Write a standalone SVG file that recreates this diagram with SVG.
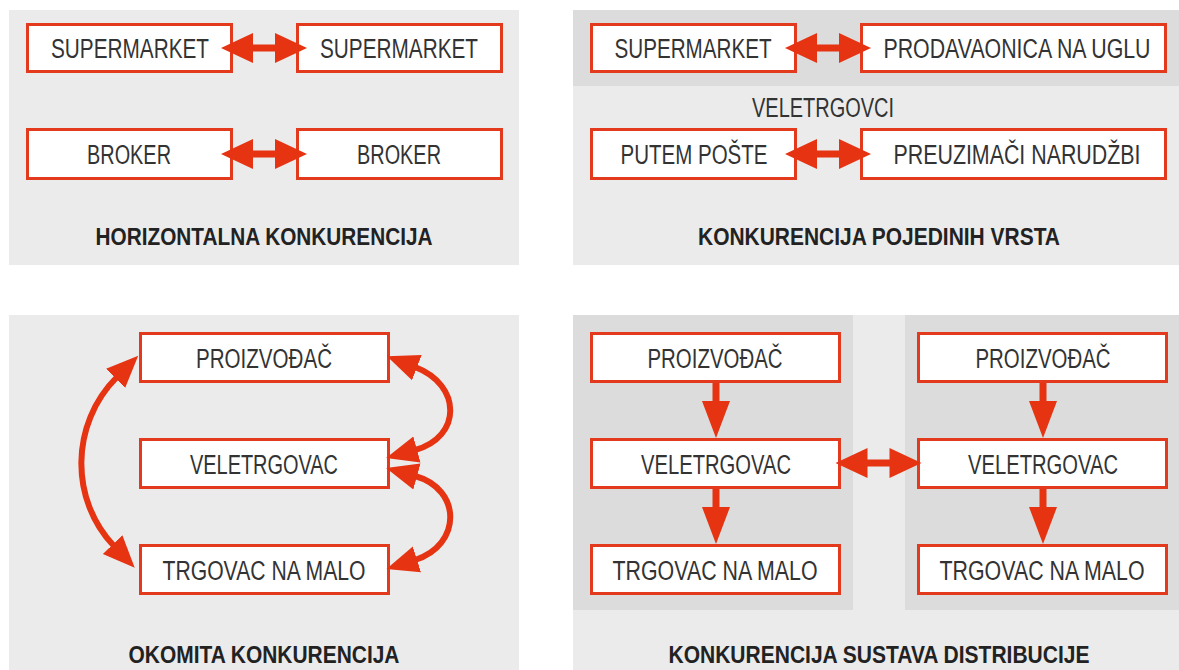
<svg xmlns="http://www.w3.org/2000/svg" xmlns:xlink="http://www.w3.org/1999/xlink" width="1179" height="670" viewBox="0 0 1179 670">
<style>
.bg{fill:#ebebeb}
.bg2{fill:#dcdcdc}
.box{fill:#ffffff;stroke:#e33a1e;stroke-width:3}
.t{font-family:"Liberation Sans",Arial,sans-serif;font-size:27px;fill:#333333;text-anchor:middle}
.title{font-family:"Liberation Sans",Arial,sans-serif;font-size:24px;font-weight:bold;fill:#222222;text-anchor:middle}
.arr{fill:#e63312}
.curve{fill:none;stroke:#e63312;stroke-width:6}
</style>
<defs>
<path id="dbl" d="M-43,0 L-11,-15 L-11,-3.5 L11,-3.5 L11,-15 L43,0 L11,15 L11,3.5 L-11,3.5 L-11,15 Z"/>
<path id="down" d="M-3.5,0 L3.5,0 L3.5,18 L14,18 L0,55 L-14,18 L-3.5,18 Z"/>
<marker id="head" markerUnits="userSpaceOnUse" markerWidth="36" markerHeight="30" viewBox="-2 -14 36 28" refX="0" refY="0" orient="auto-start-reverse">
<path d="M-2,-13.5 L30,0 L-2,13.5 Z" fill="#e63312"/>
</marker>
</defs>
<rect width="1179" height="670" fill="#ffffff"/>
<g id="panels">
<rect class="bg" x="9" y="10" width="510" height="255"/>
<rect class="bg" x="573" y="10" width="606" height="255"/>
<rect class="bg2" x="573" y="10" width="606" height="76"/>
<rect class="bg" x="9" y="315" width="510" height="355"/>
<rect class="bg" x="573" y="315" width="606" height="355"/>
<rect class="bg2" x="573" y="315" width="280" height="295"/>
<rect class="bg2" x="905" y="315" width="274" height="295"/>
</g>
<g id="titles">
<text class="title" x="264" y="245" textLength="337" lengthAdjust="spacingAndGlyphs">HORIZONTALNA KONKURENCIJA</text>
<text class="title" x="879" y="245" textLength="362" lengthAdjust="spacingAndGlyphs">KONKURENCIJA POJEDINIH VRSTA</text>
<text class="title" x="264" y="663" textLength="271" lengthAdjust="spacingAndGlyphs">OKOMITA KONKURENCIJA</text>
<text class="title" x="879" y="663" textLength="421" lengthAdjust="spacingAndGlyphs">KONKURENCIJA SUSTAVA DISTRIBUCIJE</text>
<text class="t" x="823" y="117" textLength="142" lengthAdjust="spacingAndGlyphs">VELETRGOVCI</text>
</g>
<g id="p1-supermarket-l"><rect class="box" x="27.5" y="24.5" width="204" height="47"/><text class="t" x="130" y="57.5" textLength="158" lengthAdjust="spacingAndGlyphs">SUPERMARKET</text></g>
<g id="p1-supermarket-r"><rect class="box" x="297.5" y="24.5" width="204" height="47"/><text class="t" x="399" y="57.5" textLength="158" lengthAdjust="spacingAndGlyphs">SUPERMARKET</text></g>
<g id="p1-broker-l"><rect class="box" x="27.5" y="129.5" width="204" height="49"/><text class="t" x="129" y="163.5" textLength="84" lengthAdjust="spacingAndGlyphs">BROKER</text></g>
<g id="p1-broker-r"><rect class="box" x="297.5" y="129.5" width="204" height="49"/><text class="t" x="399" y="163.5" textLength="84" lengthAdjust="spacingAndGlyphs">BROKER</text></g>
<g id="p2-supermarket"><rect class="box" x="591.5" y="24.5" width="204" height="47"/><text class="t" x="693" y="57.5" textLength="157" lengthAdjust="spacingAndGlyphs">SUPERMARKET</text></g>
<g id="p2-prodavaonica"><rect class="box" x="861.5" y="24.5" width="304" height="47"/><text class="t" x="1017" y="57.5" textLength="267" lengthAdjust="spacingAndGlyphs">PRODAVAONICA NA UGLU</text></g>
<g id="p2-putem-poste"><rect class="box" x="591.5" y="129.5" width="204" height="49"/><text class="t" x="694" y="163.5" textLength="147" lengthAdjust="spacingAndGlyphs">PUTEM POŠTE</text></g>
<g id="p2-preuzimaci"><rect class="box" x="861.5" y="129.5" width="304" height="49"/><text class="t" x="1017" y="163.5" textLength="247" lengthAdjust="spacingAndGlyphs">PREUZIMAČI NARUDŽBI</text></g>
<g id="p3-proizvodac"><rect class="box" x="140.5" y="333.5" width="248" height="48"/><text class="t" x="264" y="367.5" textLength="136" lengthAdjust="spacingAndGlyphs">PROIZVOĐAČ</text></g>
<g id="p3-veletrgovac"><rect class="box" x="140.5" y="439.5" width="248" height="48"/><text class="t" x="264" y="473.5" textLength="148" lengthAdjust="spacingAndGlyphs">VELETRGOVAC</text></g>
<g id="p3-trgovac"><rect class="box" x="140.5" y="545.5" width="248" height="48"/><text class="t" x="264" y="579.5" textLength="203" lengthAdjust="spacingAndGlyphs">TRGOVAC NA MALO</text></g>
<g id="p4-proizvodac-l"><rect class="box" x="591.5" y="333.5" width="248" height="48"/><text class="t" x="715" y="367.5" textLength="135" lengthAdjust="spacingAndGlyphs">PROIZVOĐAČ</text></g>
<g id="p4-veletrgovac-l"><rect class="box" x="591.5" y="439.5" width="248" height="48"/><text class="t" x="716" y="473.5" textLength="150" lengthAdjust="spacingAndGlyphs">VELETRGOVAC</text></g>
<g id="p4-trgovac-l"><rect class="box" x="591.5" y="545.5" width="248" height="48"/><text class="t" x="715" y="579.5" textLength="205" lengthAdjust="spacingAndGlyphs">TRGOVAC NA MALO</text></g>
<g id="p4-proizvodac-r"><rect class="box" x="918.5" y="333.5" width="248" height="48"/><text class="t" x="1043" y="367.5" textLength="135" lengthAdjust="spacingAndGlyphs">PROIZVOĐAČ</text></g>
<g id="p4-veletrgovac-r"><rect class="box" x="918.5" y="439.5" width="248" height="48"/><text class="t" x="1043" y="473.5" textLength="150" lengthAdjust="spacingAndGlyphs">VELETRGOVAC</text></g>
<g id="p4-trgovac-r"><rect class="box" x="918.5" y="545.5" width="248" height="48"/><text class="t" x="1042" y="579.5" textLength="205" lengthAdjust="spacingAndGlyphs">TRGOVAC NA MALO</text></g>
<g id="connectors">
<use href="#dbl" class="arr" x="264" y="48"/>
<use href="#dbl" class="arr" x="264" y="154"/>
<use href="#dbl" class="arr" x="828" y="48"/>
<use href="#dbl" class="arr" x="828" y="154"/>
<use href="#dbl" class="arr" x="878.5" y="463"/>
<use href="#down" class="arr" x="716" y="383"/>
<use href="#down" class="arr" x="716" y="489"/>
<use href="#down" class="arr" x="1043" y="383"/>
<use href="#down" class="arr" x="1043" y="489"/>
<path class="curve" d="M117,377 C70,424 70,500 114,546" marker-start="url(#head)" marker-end="url(#head)"/>
<path class="curve" d="M415,367 C462,385 462,437 415,450" marker-start="url(#head)" marker-end="url(#head)"/>
<path class="curve" d="M415,476 C462,489 462,545 415,560" marker-start="url(#head)" marker-end="url(#head)"/>
</g>
</svg>
